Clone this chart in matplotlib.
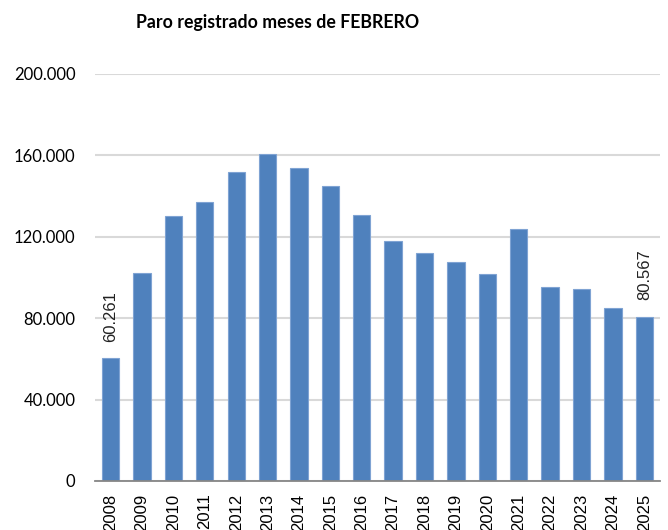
import matplotlib
matplotlib.use("Agg")
import matplotlib.pyplot as plt
from matplotlib.ticker import FuncFormatter, MultipleLocator

years = ["2008", "2009", "2010", "2011", "2012", "2013", "2014", "2015", "2016",
         "2017", "2018", "2019", "2020", "2021", "2022", "2023", "2024", "2025"]
paro = [60261, 102400, 130100, 137300, 151800, 160700, 153900, 145000, 130700,
        118000, 111900, 107500, 101900, 123800, 95200, 94200, 84800, 80567]
labeled = {"2008": "60.261", "2025": "80.567"}
title = "Paro registrado meses de FEBRERO"

fig = plt.figure(figsize=(6.68, 5.30), dpi=100)
ax = fig.add_axes([0.142, 0.0925, 0.846, 0.7679])

x = list(range(len(years)))
ax.bar(x, paro, width=0.55, color="#4F81BD", edgecolor="#7FA3D3", linewidth=0.8, zorder=3)

ax.set_xlim(-0.5, len(years) - 0.5)
ax.set_ylim(0, 200000)
ax.yaxis.set_major_locator(MultipleLocator(40000))
ax.yaxis.set_major_formatter(FuncFormatter(lambda v, p: f"{int(v):,}".replace(",", ".")))
ax.grid(axis="y", color="#D9D9D9", linewidth=1.5, zorder=0)
ax.set_axisbelow(True)

for s in ["top", "right", "left"]:
    ax.spines[s].set_visible(False)
ax.spines["bottom"].set_color("#868686")
ax.spines["bottom"].set_linewidth(1.3)
ax.spines["bottom"].set_zorder(4)

ax.set_xticks(x)
ax.set_xticklabels(years, rotation=90, fontsize=12, family="Liberation Sans")
ax.tick_params(axis="x", length=0, pad=9)
ax.tick_params(axis="y", length=0, pad=14, labelsize=12)
for t in ax.get_yticklabels():
    t.set_family("Lato")

for xi, yr, v in zip(x, years, paro):
    if yr in labeled:
        ax.annotate(labeled[yr], (xi, v), xytext=(0, 12), textcoords="offset points",
                    rotation=90, ha="center", va="bottom", fontsize=12,
                    family="Liberation Sans", color="#222222")

fig.text(0.416, 0.958, title, ha="center", va="center", fontsize=12.8,
         fontweight="bold", family="Lato")

fig.savefig("out.png", dpi=100, facecolor="white")
